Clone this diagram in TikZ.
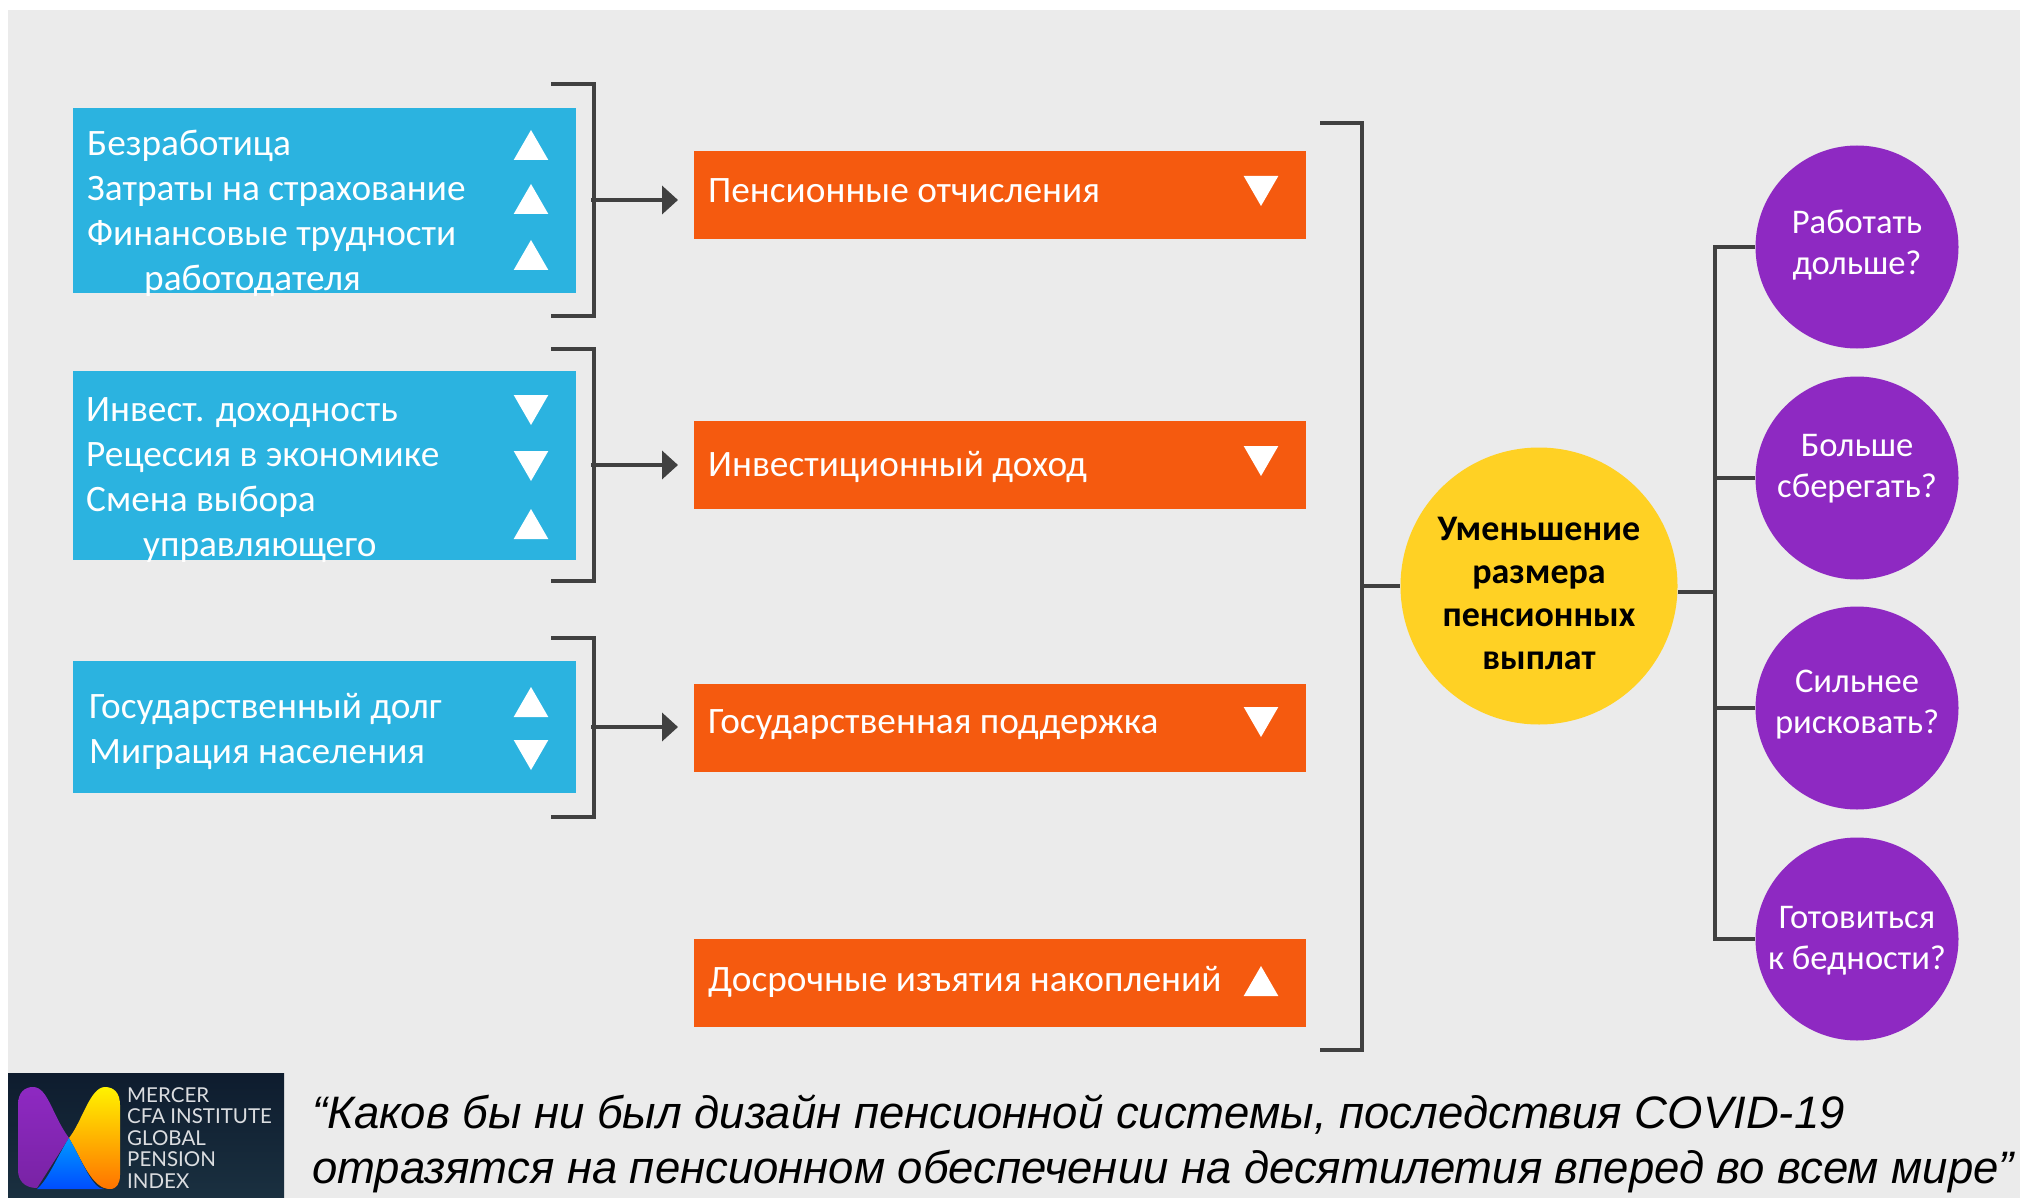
\documentclass[tikz,border=0pt]{standalone}
\usepackage{fontspec}
\setmainfont{Carlito}
\newfontfamily\quotefont{Liberation Sans}
\newfontfamily\logofont{Lato}
\usetikzlibrary{arrows.meta, shapes.geometric, positioning}
\definecolor{panelgray}{HTML}{EBEBEB}
\definecolor{causeblue}{HTML}{2BB3E0}
\definecolor{flowred}{HTML}{F55A0F}
\definecolor{sunyellow}{HTML}{FFD124}
\definecolor{askpurple}{HTML}{8E29C2}
\definecolor{linegray}{HTML}{404040}
\definecolor{logonavy}{HTML}{0E1C2E}
\definecolor{logofoot}{HTML}{1A3040}
\tikzset{causebox/.style = {%
    fill=causeblue, inner sep=0pt, anchor=north west,
    minimum width=503pt},
  causetext/.style = {%
    anchor=west, align=left, text=white, inner sep=0pt,
    font=\fontsize{37.3}{45}\selectfont},
  flowbox/.style = {%
    fill=flowred, inner sep=0pt, anchor=north west,
    minimum width=612pt, minimum height=88pt},
  flowtext/.style = {%
    anchor=west, text=white, inner sep=0pt,
    font=\fontsize{37.3}{45}\selectfont},
  askcircle/.style = {%
    circle, fill=askpurple, inner sep=0pt, minimum size=203pt},
  asktext/.style = {%
    align=center, text=white, inner sep=0pt,
    font=\fontsize{34.6}{41}\selectfont},
  triup/.style = {%
    regular polygon, regular polygon sides=3, fill=white,
    inner sep=0pt, minimum size=40pt},
  tridown/.style = {triup, shape border rotate=180},
  conn/.style = {draw=linegray, line width=3.8pt},
  feed/.style = {conn, -{Triangle[length=16pt,width=28pt]}},
  logotext/.style = {%
    anchor=west, text=white!85!logonavy, inner sep=0pt,
    font=\logofont\fontsize{20.5}{20.5}\selectfont}}

\begin{document}
\begin{tikzpicture}[x=1pt,y=-1pt]
\useasboundingbox (0,0) rectangle (2020,1198);
\fill[white] (0,0) rectangle (2020,1198);
\fill[panelgray] (8,10) rectangle (2020,1198);

\node[causebox, minimum height=185pt] (cause1) at (73,108) {};
\node[causebox, minimum height=189pt] (cause2) at (73,371) {};
\node[causebox, minimum height=132pt] (cause3) at (73,661) {};

\node[causetext] (text1) at (87,213)
  {Безработица\\Затраты на страхование\\Финансовые трудности\\\hspace*{57pt}работодателя};
\node[causetext] (text2) at (86,480)
  {Инвест. доходность\\Рецессия в экономике\\Смена выбора\\\hspace*{57pt}управляющего};
\node[causetext] (text3) at (89,731)
  {Государственный долг\\Миграция населения};

\node[triup]   (up11) at (531,150) {};
\node[triup]   (up12) at (531,204) {};
\node[triup]   (up13) at (531,260) {};
\node[tridown] (dn21) at (531,405) {};
\node[tridown] (dn22) at (531,461) {};
\node[triup]   (up23) at (531,529) {};
\node[triup]   (up31) at (531,707) {};
\node[tridown] (dn32) at (531,750) {};

\node[flowbox] (flow1) at (694,151) {};
\node[flowbox] (flow2) at (694,421) {};
\node[flowbox] (flow3) at (694,684) {};
\node[flowbox] (flow4) at (694,939) {};
\node[flowtext] (flowt1) at (708,191) {Пенсионные отчисления};
\node[flowtext] (flowt2) at (708,467) {Инвестиционный доход};
\node[flowtext] (flowt3) at (708,725) {Государственная поддержка};
\node[flowtext] (flowt4) at (708,982) {Досрочные изъятия накоплений};
\node[tridown] (dnf1) at (1261,186) {};
\node[tridown] (dnf2) at (1261,456) {};
\node[tridown] (dnf3) at (1261,717) {};
\node[triup]   (upf4) at (1261,986) {};

\coordinate (brk1t) at (551,84);
\coordinate (brk1b) at (551,316);
\coordinate (brk2t) at (551,349);
\coordinate (brk2b) at (551,581);
\coordinate (brk3t) at (551,638);
\coordinate (brk3b) at (551,817);
\coordinate (brk1m) at (591,200);
\coordinate (brk2m) at (591,465);
\coordinate (brk3m) at (591,727);
\coordinate (tip1) at (678,200);
\coordinate (tip2) at (678,465);
\coordinate (tip3) at (678,727);
\draw[conn] (brk1t) -- (594,84) -- (594,316) -- (brk1b);
\draw[conn] (brk2t) -- (594,349) -- (594,581) -- (brk2b);
\draw[conn] (brk3t) -- (594,638) -- (594,817) -- (brk3b);
\draw[feed] (brk1m) -- (tip1);
\draw[feed] (brk2m) -- (tip2);
\draw[feed] (brk3m) -- (tip3);

\node[circle, fill=sunyellow, inner sep=0pt, minimum size=277pt] (result) at (1539,586) {};
\node[align=center, inner sep=0pt, font=\fontsize{36}{43}\bfseries\selectfont] (resultt) at (1539,593)
  {Уменьшение\\размера\\пенсионных\\выплат};

\coordinate (bigt) at (1320,123);
\coordinate (bigb) at (1320,1050);
\coordinate (bigm) at (1362,586);
\draw[conn] (bigt) -- (1362,123) -- (1362,1050) -- (bigb);
\draw[conn] (bigm) -- (result.west);

\node[askcircle] (ask1) at (1857,247) {};
\node[askcircle] (ask2) at (1857,478) {};
\node[askcircle] (ask3) at (1857,708) {};
\node[askcircle] (ask4) at (1857,939) {};
\node[asktext] (askt1) at (1857,245) {Работать\\дольше?};
\node[asktext] (askt2) at (1857,469) {Больше\\сберегать?};
\node[asktext] (askt3) at (1857,705) {Сильнее\\рисковать?};
\node[asktext] (askt4) at (1857,941) {Готовиться\\к бедности?};

\coordinate (trunk) at (1715,592);
\draw[conn] (ask1.west) -| (trunk) |- (ask4.west);
\draw[conn] (ask2.west) -- (ask2.west -| trunk);
\draw[conn] (ask3.west) -- (ask3.west -| trunk);
\draw[conn] (trunk) -- (trunk -| result.east);

\shade[top color=logonavy, bottom color=logofoot] (8,1073) rectangle (284,1198);
\shade[top color=askpurple, bottom color=askpurple!85!black]
  (18,1105) .. controls (18,1092) and (25,1087) .. (33,1087)
  .. controls (48,1087) and (52,1115) .. (69,1138) -- (37,1188)
  .. controls (24,1188) and (18,1180) .. (18,1170) -- cycle;
\shade[top color=yellow!90!orange, middle color=yellow!90!orange, bottom color=orange!90!red]
  (120,1105) .. controls (120,1093) and (114,1087) .. (105,1087)
  .. controls (90,1087) and (82,1122) .. (69,1138)
  .. controls (82,1160) and (92,1189) .. (110,1189)
  .. controls (117,1189) and (120,1183) .. (120,1175) -- cycle;
\shade[top color=cyan!60!blue, bottom color=blue!70!cyan]
  (69,1138) .. controls (82,1160) and (92,1189) .. (104,1189)
  -- (37,1189) .. controls (48,1180) and (58,1155) .. (69,1138) -- cycle;
\node[logotext] (logo1) at (127,1095) {MERCER};
\node[logotext] (logo2) at (127,1116) {CFA INSTITUTE};
\node[logotext] (logo3) at (127,1138) {GLOBAL};
\node[logotext] (logo4) at (127,1159) {PENSION};
\node[logotext] (logo5) at (127,1181) {INDEX};

\node[anchor=west, align=left, inner sep=0pt, font=\quotefont\itshape\fontsize{45.5}{55}\selectfont] (quote) at (312,1144)
  {“Каков бы ни был дизайн пенсионной системы, последствия COVID-19\\отразятся на пенсионном обеспечении на десятилетия вперед во всем мире”};
\end{tikzpicture}
\end{document}
